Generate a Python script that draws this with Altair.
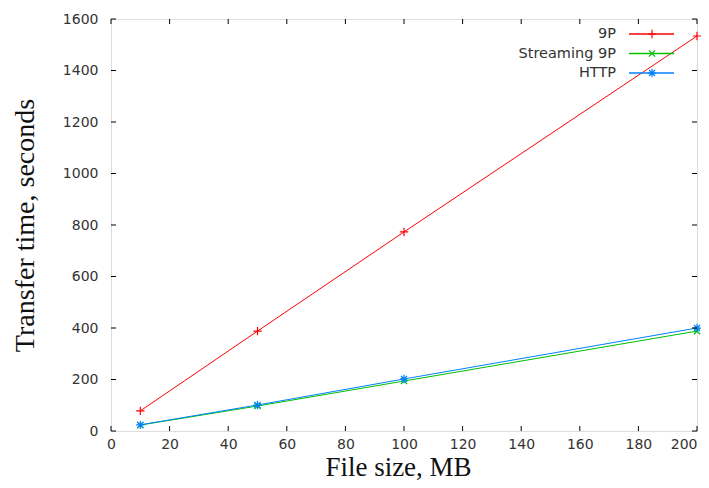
import altair as alt
import pandas as pd

sizes = [10, 50, 100, 200]
series_names = ["9P", "Streaming 9P", "HTTP"]
t_9p = [78, 388, 773, 1534]
t_stream = [23, 97, 194, 388]
t_http = [24, 101, 202, 400]
x_ticks = [0, 20, 40, 60, 80, 100, 120, 140, 160, 180, 200]
y_ticks = [0, 200, 400, 600, 800, 1000, 1200, 1400, 1600]

colors = ["#ff0000", "#00c000", "#0080ff"]
shapes = [
    "M-1,0L1,0M0,-1L0,1",
    "M-0.75,-0.75L0.75,0.75M-0.75,0.75L0.75,-0.75",
    "M-1,0L1,0M0,-1L0,1M-0.72,-0.72L0.72,0.72M-0.72,0.72L0.72,-0.72",
]

rows = []
for name, vals in zip(series_names, [t_9p, t_stream, t_http]):
    for s, v in zip(sizes, vals):
        rows.append({"size": s, "time": v, "series": name})
df = pd.DataFrame(rows)

W, H = 586, 412

xs = alt.Scale(domain=[0, 200], nice=False)
ys = alt.Scale(domain=[0, 1600], nice=False)
col = alt.Scale(domain=series_names, range=colors)
shp = alt.Scale(domain=series_names, range=shapes)

axis_common = dict(
    ticks=False, domain=False, grid=False, labelFlush=False, labelOverlap=False,
    labelFont="DejaVu Sans", labelFontSize=14, labelColor="#333333",
    titleFont="Liberation Serif", titleFontWeight="normal",
    titleColor="#111111",
)

lines = alt.Chart(df).mark_line(strokeWidth=1).encode(
    x=alt.X("size:Q", scale=xs,
            axis=alt.Axis(values=x_ticks, format="d", labelPadding=6, title="File size, MB",
                          labelAlign={"expr": "datum.value == 200 ? 'right' : 'center'"},
                          titleBaseline="alphabetic", titleY=44, titleX=287,
                          titleFontSize=27, **axis_common)),
    y=alt.Y("time:Q", scale=ys,
            axis=alt.Axis(values=y_ticks, format="d", labelPadding=13,
                          title="Transfer time, seconds",
                          titlePadding=23, titleFontSize=28, **axis_common)),
    color=alt.Color("series:N", scale=col, legend=None),
    detail="series:N",
)

points = alt.Chart(df).mark_point(filled=False, strokeWidth=1.2, size=70, opacity=1).encode(
    x=alt.X("size:Q", scale=xs),
    y=alt.Y("time:Q", scale=ys),
    color=alt.Color("series:N", scale=col, legend=None),
    shape=alt.Shape("series:N", scale=shp, legend=None),
)

xt = pd.DataFrame({"v": x_ticks})
yt = pd.DataFrame({"v": y_ticks})
tick_layers = [
    alt.Chart(xt).mark_rule(color="black", strokeWidth=1).encode(
        x=alt.X("v:Q", scale=xs), y=alt.value(H), y2=alt.value(H - 5)),
    alt.Chart(xt).mark_rule(color="black", strokeWidth=1).encode(
        x=alt.X("v:Q", scale=xs), y=alt.value(0), y2=alt.value(5)),
    alt.Chart(yt).mark_rule(color="black", strokeWidth=1).encode(
        y=alt.Y("v:Q", scale=ys), x=alt.value(0), x2=alt.value(5)),
    alt.Chart(yt).mark_rule(color="black", strokeWidth=1).encode(
        y=alt.Y("v:Q", scale=ys), x=alt.value(W), x2=alt.value(W - 5)),
]

one = pd.DataFrame({"a": [0]})
legend_layers = []
for i, (name, c, s) in enumerate(zip(series_names, colors, shapes)):
    yy = 15 + 19.5 * i
    legend_layers.append(alt.Chart(one).mark_text(
        align="right", baseline="middle", font="DejaVu Sans", fontSize=14.5, color="#333333"
    ).encode(x=alt.value(505), y=alt.value(yy), text=alt.value(name)))
    legend_layers.append(alt.Chart(one).mark_rule(color=c, strokeWidth=1.5).encode(
        x=alt.value(518), x2=alt.value(563), y=alt.value(yy)))
    legend_layers.append(alt.Chart(one).mark_point(
        shape=s, color=c, filled=False, size=70, strokeWidth=1.2, opacity=1
    ).encode(x=alt.value(541), y=alt.value(yy)))

chart = alt.layer(lines, points, *tick_layers, *legend_layers).properties(
    width=W, height=H,
    autosize=alt.AutoSizeParams(type="none"),
    padding={"left": 103, "top": 11, "right": 4, "bottom": 49},
).configure_view(stroke="black", strokeWidth=1).configure(background="white")

chart.save("out.html", embed_options={"renderer": "svg", "actions": False})
